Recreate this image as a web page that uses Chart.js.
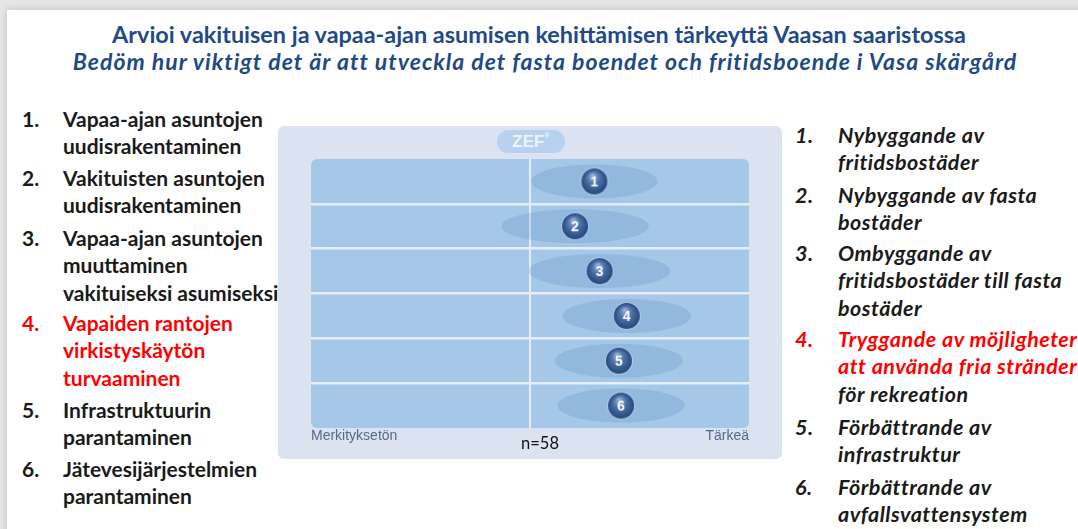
<!DOCTYPE html>
<html><head><meta charset="utf-8">
<script src="https://cdn.jsdelivr.net/npm/chart.js@4"></script>
<style>
body{margin:0;width:1078px;height:529px;overflow:hidden;background:#e6e6e6;font-family:Lato,'Open Sans',sans-serif;position:relative}
#slide{position:absolute;left:7px;top:10px;width:1100px;height:560px;background:#fff;box-shadow:0 0 8px rgba(0,0,0,0.18)}
.t{position:absolute;white-space:nowrap}
.title{left:0;width:1078px;text-align:center;color:#1f4a86;font-weight:700;line-height:26px}
.item{position:absolute;font-weight:700;font-size:21px;line-height:27.3px;color:#1a1a1a}
.item .num{position:absolute;left:0;top:0}
.item .txt{position:absolute;white-space:nowrap}
.red{color:#ff0000}
#panel{position:absolute;left:278px;top:126px;width:504px;height:333px;background:#dbe2f0;border-radius:6px}
#zef{position:absolute;left:219px;top:4px;width:68px;height:23px;border-radius:12px;background:#b7d2ee;color:#eef4fb;font-family:'Liberation Sans',Arial,sans-serif;font-weight:700;font-size:17px;line-height:23px;text-align:center}
#zef sup{font-size:7px;vertical-align:top;line-height:12px}
.axl{position:absolute;font-family:'Liberation Sans',Arial,sans-serif;font-size:14px;color:#56698c;top:301px}
#n{position:absolute;left:0;width:524px;text-align:center;top:307px;font-size:16.5px;color:#111}
</style></head>
<body>
<div id="slide"></div>
<div class="t title" style="top:21px;font-size:23.4px">Arvioi vakituisen ja vapaa-ajan asumisen kehittämisen tärkeyttä Vaasan saaristossa</div>
<div class="t title" style="top:48px;font-size:23px;letter-spacing:1px;font-style:italic;left:6px">Bedöm hur viktigt det är att utveckla det fasta boendet och fritidsboende i Vasa skärgård</div>
<div id="left"></div>
<div id="right"></div>
<div id="panel">
  <canvas id="c" width="504" height="333" style="position:absolute;left:0;top:0"></canvas>
  <div id="zef">ZEF<sup>®</sup></div>
  <div class="axl" id="axl0" style="left:33px"></div>
  <div class="axl" id="axl1" style="right:33px"></div>
  <div id="n">n=58</div>
</div>
<script>
// ---- data ----
const itemNumbers = [1, 2, 3, 4, 5, 6];
const meanValues = [64.7, 60.3, 65.9, 72.1, 70.3, 70.8];     // 0 = Merkityksetön, 100 = Tärkeä
const spreadValues = [14.4, 16.8, 16.2, 14.7, 14.6, 14.5];   // half-width of the spread ellipse
const axisLabels = ['Merkityksetön', 'Tärkeä'];
const fiLabels = [
  ['Vapaa-ajan asuntojen', 'uudisrakentaminen'],
  ['Vakituisten asuntojen', 'uudisrakentaminen'],
  ['Vapaa-ajan asuntojen', 'muuttaminen', 'vakituiseksi asumiseksi'],
  ['Vapaiden rantojen', 'virkistyskäytön', 'turvaaminen'],
  ['Infrastruktuurin', 'parantaminen'],
  ['Jätevesijärjestelmien', 'parantaminen']
];
const svLabels = [
  ['Nybyggande av', 'fritidsbostäder'],
  ['Nybyggande av fasta', 'bostäder'],
  ['Ombyggande av', 'fritidsbostäder till fasta', 'bostäder'],
  ['Tryggande av möjligheter', 'att använda fria stränder', 'för rekreation'],
  ['Förbättrande av', 'infrastruktur'],
  ['Förbättrande av', 'avfallsvattensystem']
];
const highlightItem = 4;
const highlightLines = 2; // red lines in Swedish item 4

document.getElementById('axl0').textContent = axisLabels[0];
document.getElementById('axl1').textContent = axisLabels[1];

// ---- lists ----
function buildList(id, labels, tops, numX, txtX, italic, redLinesSv){
  const host = document.getElementById(id);
  labels.forEach((lines, i) => {
    const d = document.createElement('div');
    d.className = 'item';
    d.style.left = numX + 'px';
    d.style.top = tops[i] + 'px';
    if (italic) { d.style.fontStyle = 'italic'; d.style.fontSize = '21.5px'; d.style.letterSpacing = '0.5px'; }
    const isRed = itemNumbers[i] === highlightItem;
    const num = document.createElement('div');
    num.className = 'num' + (isRed ? ' red' : '');
    num.textContent = itemNumbers[i] + '.';
    d.appendChild(num);
    const txt = document.createElement('div');
    txt.className = 'txt';
    txt.style.left = (txtX - numX) + 'px';
    lines.forEach((ln, k) => {
      const s = document.createElement('div');
      s.textContent = ln;
      if (isRed && (redLinesSv == null || k < redLinesSv)) s.className = 'red';
      txt.appendChild(s);
    });
    d.appendChild(txt);
    host.appendChild(d);
  });
}
buildList('left', fiLabels, [105, 164, 224, 309, 396, 455], 22, 63, false, null);
buildList('right', svLabels, [122, 182, 240, 326, 414, 474], 795, 838, true, highlightLines);

// ---- sphere markers ----
function sphere(n){
  const c = document.createElement('canvas');
  c.width = 30; c.height = 30;
  const g = c.getContext('2d');
  const cx = 15, cy = 15, r = 13;
  g.beginPath(); g.arc(cx, cy, r + 1, 0, Math.PI * 2);
  g.fillStyle = 'rgba(205,220,240,0.55)'; g.fill();
  const grad = g.createRadialGradient(cx - 2, cy - 6, 1, cx, cy, r);
  grad.addColorStop(0, '#93aed6');
  grad.addColorStop(0.45, '#4d71a8');
  grad.addColorStop(1, '#25477d');
  g.beginPath(); g.arc(cx, cy, r, 0, Math.PI * 2);
  g.fillStyle = grad; g.fill();
  g.fillStyle = '#ffffff';
  g.font = 'bold 14px "Liberation Sans", Arial, sans-serif';
  g.textAlign = 'center'; g.textBaseline = 'middle';
  g.fillText(String(n), cx, cy + 1);
  return c;
}
const sphereImages = itemNumbers.map(sphere);

const bgPlugin = {
  id: 'rowsBg',
  beforeDraw(chart){
    const {ctx, chartArea:a} = chart;
    ctx.save();
    ctx.fillStyle = '#a5c8e8';
    ctx.beginPath();
    ctx.roundRect(a.left, a.top, a.right - a.left, a.bottom - a.top, 6);
    ctx.fill();
    ctx.restore();
  }
};
const ellipsePlugin = {
  id: 'spread',
  beforeDatasetsDraw(chart){
    const {ctx, scales:{x, y}} = chart;
    ctx.save();
    ctx.fillStyle = 'rgba(60,110,170,0.18)';
    meanValues.forEach((m, i) => {
      const cx = x.getPixelForValue(m);
      const rx = x.getPixelForValue(m + spreadValues[i]) - cx;
      const cy = y.getPixelForValue(i + 0.5);
      const ry = Math.abs(y.getPixelForValue(i + 0.88) - cy);
      ctx.beginPath();
      ctx.ellipse(cx, cy, rx, ry, 0, 0, Math.PI * 2);
      ctx.fill();
    });
    ctx.restore();
  }
};

new Chart(document.getElementById('c'), {
  type: 'scatter',
  data: {
    datasets: [{
      data: meanValues.map((v, i) => ({x: v, y: i + 0.5})),
      pointStyle: sphereImages,
      pointRadius: 14,
      pointHoverRadius: 14
    }]
  },
  options: {
    responsive: false,
    animation: false,
    events: [],
    layout: {padding: {left: 33, right: 33, top: 33, bottom: 31}},
    plugins: {legend: {display: false}, tooltip: {enabled: false}},
    scales: {
      x: {
        type: 'linear', min: 0, max: 100,
        afterBuildTicks: s => { s.ticks = [{value: 0}, {value: 50}, {value: 100}]; },
        ticks: {display: false},
        grid: {color: c => (c.tick && c.tick.value === 50) ? '#e6edf7' : 'rgba(0,0,0,0)', lineWidth: 2, drawTicks: false},
        border: {display: false}
      },
      y: {
        type: 'linear', min: 0, max: 6, reverse: true,
        ticks: {display: false, stepSize: 1},
        grid: {color: c => (c.tick && c.tick.value > 0 && c.tick.value < 6) ? '#e6edf7' : 'rgba(0,0,0,0)', lineWidth: 2.5, drawTicks: false},
        border: {display: false}
      }
    }
  },
  plugins: [bgPlugin, ellipsePlugin]
});
</script>
</body></html>
